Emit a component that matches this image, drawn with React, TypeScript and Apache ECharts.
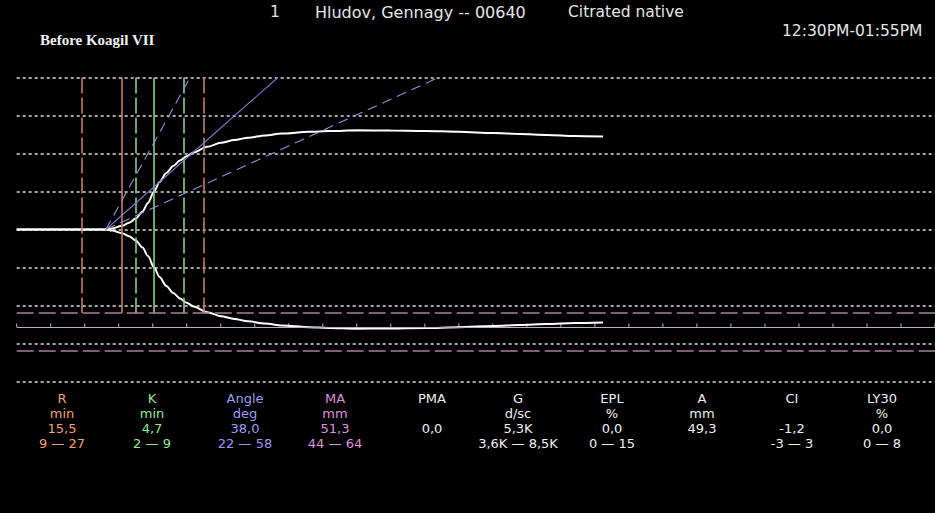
import React, { useEffect, useRef } from "react";
import * as echarts from "echarts";

// ---- Trace data (time in minutes, amplitude in mm) ----
const traceTimes = [0, 13.1, 14, 15.5, 16.5, 17.5, 18.5, 19.3, 20.2, 21, 22, 23, 24, 25, 26, 28, 30, 32, 34, 36.5, 39, 43, 46, 50, 55, 60, 65, 70, 74, 78, 82, 86.2];
const traceAmplitudes = [0, 0, 0.5, 2, 3.5, 5.8, 9.5, 14, 20, 25, 29.8, 33.4, 36.3, 38.6, 40.5, 43.5, 45.6, 47.1, 48.3, 49.5, 50.5, 51.4, 51.8, 52.2, 52.1, 51.9, 51.4, 50.8, 50.3, 49.8, 49.2, 48.9];

// ---- Marker lines ----
const rLineTimes = [9.5, 15.5, 27.5];
const rLineDashed = [true, false, true];
const kLineTimes = [17.5, 20.2, 24.5];
const kLineDashed = [true, false, true];
const angleOrigin = [13.1, 0];
const angleEndTimes = [25.5, 38.4, 62];
const angleEndAmps = [80, 80, 80];
const angleDashed = [true, false, true];
const maValue = 51.3;
const maRange = [44, 64];
const tickTimes = [0, 5, 10, 15, 20, 25, 30, 35, 40, 45, 50, 55, 60, 65, 70, 75, 80, 85, 90, 95, 100, 105, 110, 115, 120, 125, 130, 135];

// ---- Parameter table ----
const paramNames = ["R", "K", "Angle", "MA", "PMA", "G", "EPL", "A", "CI", "LY30"];
const paramUnits = ["min", "min", "deg", "mm", "", "d/sc", "%", "mm", "", "%"];
const paramValues = ["15,5", "4,7", "38,0", "51,3", "0,0", "5,3K", "0,0", "49,3", "-1,2", "0,0"];
const paramRanges = ["9 — 27", "2 — 9", "22 — 58", "44 — 64", "", "3,6K — 8,5K", "0 — 15", "", "-3 — 3", "0 — 8"];
const paramColors = ["#f2a070", "#92e892", "#9c9cf2", "#dc92dc", "#f0f0f0", "#f0f0f0", "#f0f0f0", "#f0f0f0", "#f0f0f0", "#f0f0f0"];

// ---- Header texts ----
const headerNumber = "1";
const headerPatient = "Hludov, Gennagy -- 00640";
const headerSample = "Citrated native";
const headerTime = "12:30PM-01:55PM";
const headerNote = "Before Koagil VII";

// layout (not data)
const columnCenters = [62, 152, 245, 335, 432, 518, 612, 702, 792, 882];
const rowCenters = [398, 413.2, 428.4, 443.6];

const FONT = '"DejaVu Sans", Verdana, sans-serif';

export default function App() {
  const ref = useRef<HTMLDivElement>(null);

  useEffect(() => {
    document.body.style.margin = "0";
    document.body.style.background = "#000";
    const chart = echarts.init(ref.current!, null, { renderer: "svg" });

    const upper = traceTimes.map((t, i) => [t, traceAmplitudes[i]]);
    const lower = traceTimes.map((t, i) => [t, -traceAmplitudes[i]]);

    const vLine = (t: number, dashed: boolean, color: string) => [
      {
        coord: [t, 80],
        lineStyle: { color, width: 1.6, type: dashed ? [16, 4] : "solid" },
      },
      { coord: [t, -maRange[0]] },
    ];

    const markData: any[] = [];
    rLineTimes.forEach((t, i) => markData.push(vLine(t, rLineDashed[i], "#c67c6a")));
    kLineTimes.forEach((t, i) => markData.push(vLine(t, kLineDashed[i], "#8ccc8c")));
    angleEndTimes.forEach((t, i) =>
      markData.push([
        {
          coord: angleOrigin,
          lineStyle: { color: angleDashed[i] ? "#9090e0" : "#7878d0", width: 1.1, type: angleDashed[i] ? [10, 6] : "solid" },
        },
        { coord: [t, angleEndAmps[i]] },
      ])
    );
    maRange.forEach((v) =>
      markData.push([
        { coord: [0, -v], lineStyle: { color: "#a87ea2", width: 1.6, type: [17, 5] } },
        { coord: [135, -v] },
      ])
    );
    markData.push([
      { coord: [0, -maValue], lineStyle: { color: "#c6a8ce", width: 1.2, type: "solid" } },
      { coord: [135, -maValue] },
    ]);

    const texts: any[] = [];
    const addText = (
      text: string,
      x: number,
      y: number,
      color: string,
      align = "center",
      size = 13,
      family = FONT,
      weight = "normal"
    ) => {
      texts.push({
        type: "text",
        x,
        y,
        silent: true,
        style: {
          text,
          fill: color,
          fontSize: size,
          fontFamily: family,
          fontWeight: weight,
          lineHeight: Math.min(size, 13),
          textAlign: align,
          textVerticalAlign: "middle",
        },
      });
    };
    addText(headerNumber, 270, 12, "#e6e6e6", "left", 15.5);
    addText(headerPatient, 315, 12, "#e6e6e6", "left", 16);
    addText(headerSample, 568, 12, "#e6e6e6", "left", 15.5);
    addText(headerTime, 782, 31, "#e6e6e6", "left", 15.5);
    addText(headerNote, 40, 40, "#f0f0f0", "left", 15, '"Liberation Serif", "Times New Roman", serif', "bold");

    paramNames.forEach((name, i) => {
      const c = paramColors[i];
      const x = columnCenters[i];
      addText(name, x, rowCenters[0], c);
      if (paramUnits[i]) addText(paramUnits[i], x, rowCenters[1], c);
      if (paramValues[i]) addText(paramValues[i], x, rowCenters[2], c);
      if (paramRanges[i]) addText(paramRanges[i], x, rowCenters[3], c);
    });

    chart.setOption({
      animation: false,
      backgroundColor: "#000",
      grid: { left: 16.7, top: 77.5, width: 918.3, height: 304 },
      xAxis: {
        type: "value",
        min: 0,
        max: 135,
        axisLine: { show: false },
        axisTick: { show: false },
        axisLabel: { show: false },
        splitLine: { show: false },
      },
      yAxis: {
        type: "value",
        min: -80,
        max: 80,
        interval: 20,
        axisLine: { show: false },
        axisTick: { show: false },
        axisLabel: { show: false },
        splitLine: { show: true, lineStyle: { color: "#dcdcdc", width: 1.5, type: [3, 3] } },
      },
      graphic: texts,
      series: [
        {
          type: "line",
          data: [],
          z: 1,
          silent: true,
          markLine: {
            silent: true,
            symbol: ["none", "none"],
            label: { show: false },
            emphasis: { disabled: true },
            data: markData,
          },
        },
        {
          type: "custom",
          z: 2,
          silent: true,
          data: tickTimes.map((t) => [t, -maValue]),
          renderItem: (params: any, api: any) => {
            const p = api.coord([api.value(0), api.value(1)]);
            return {
              type: "line",
              shape: { x1: p[0], y1: p[1], x2: p[0], y2: p[1] - 3.5 },
              style: { stroke: "#c6a8ce", lineWidth: 1 },
            };
          },
        },
        {
          type: "line",
          data: upper,
          z: 3,
          symbol: "none",
          smooth: 0.3,
          smoothMonotone: "x",
          silent: true,
          lineStyle: { color: "#ffffff", width: 2 },
        },
        {
          type: "line",
          data: lower,
          z: 3,
          symbol: "none",
          smooth: 0.3,
          smoothMonotone: "x",
          silent: true,
          lineStyle: { color: "#ffffff", width: 2 },
        },
      ],
    });

    return () => chart.dispose();
  }, []);

  return (
    <div
      ref={ref}
      style={{ position: "fixed", left: 0, top: 0, width: 935, height: 513, background: "#000" }}
    />
  );
}
